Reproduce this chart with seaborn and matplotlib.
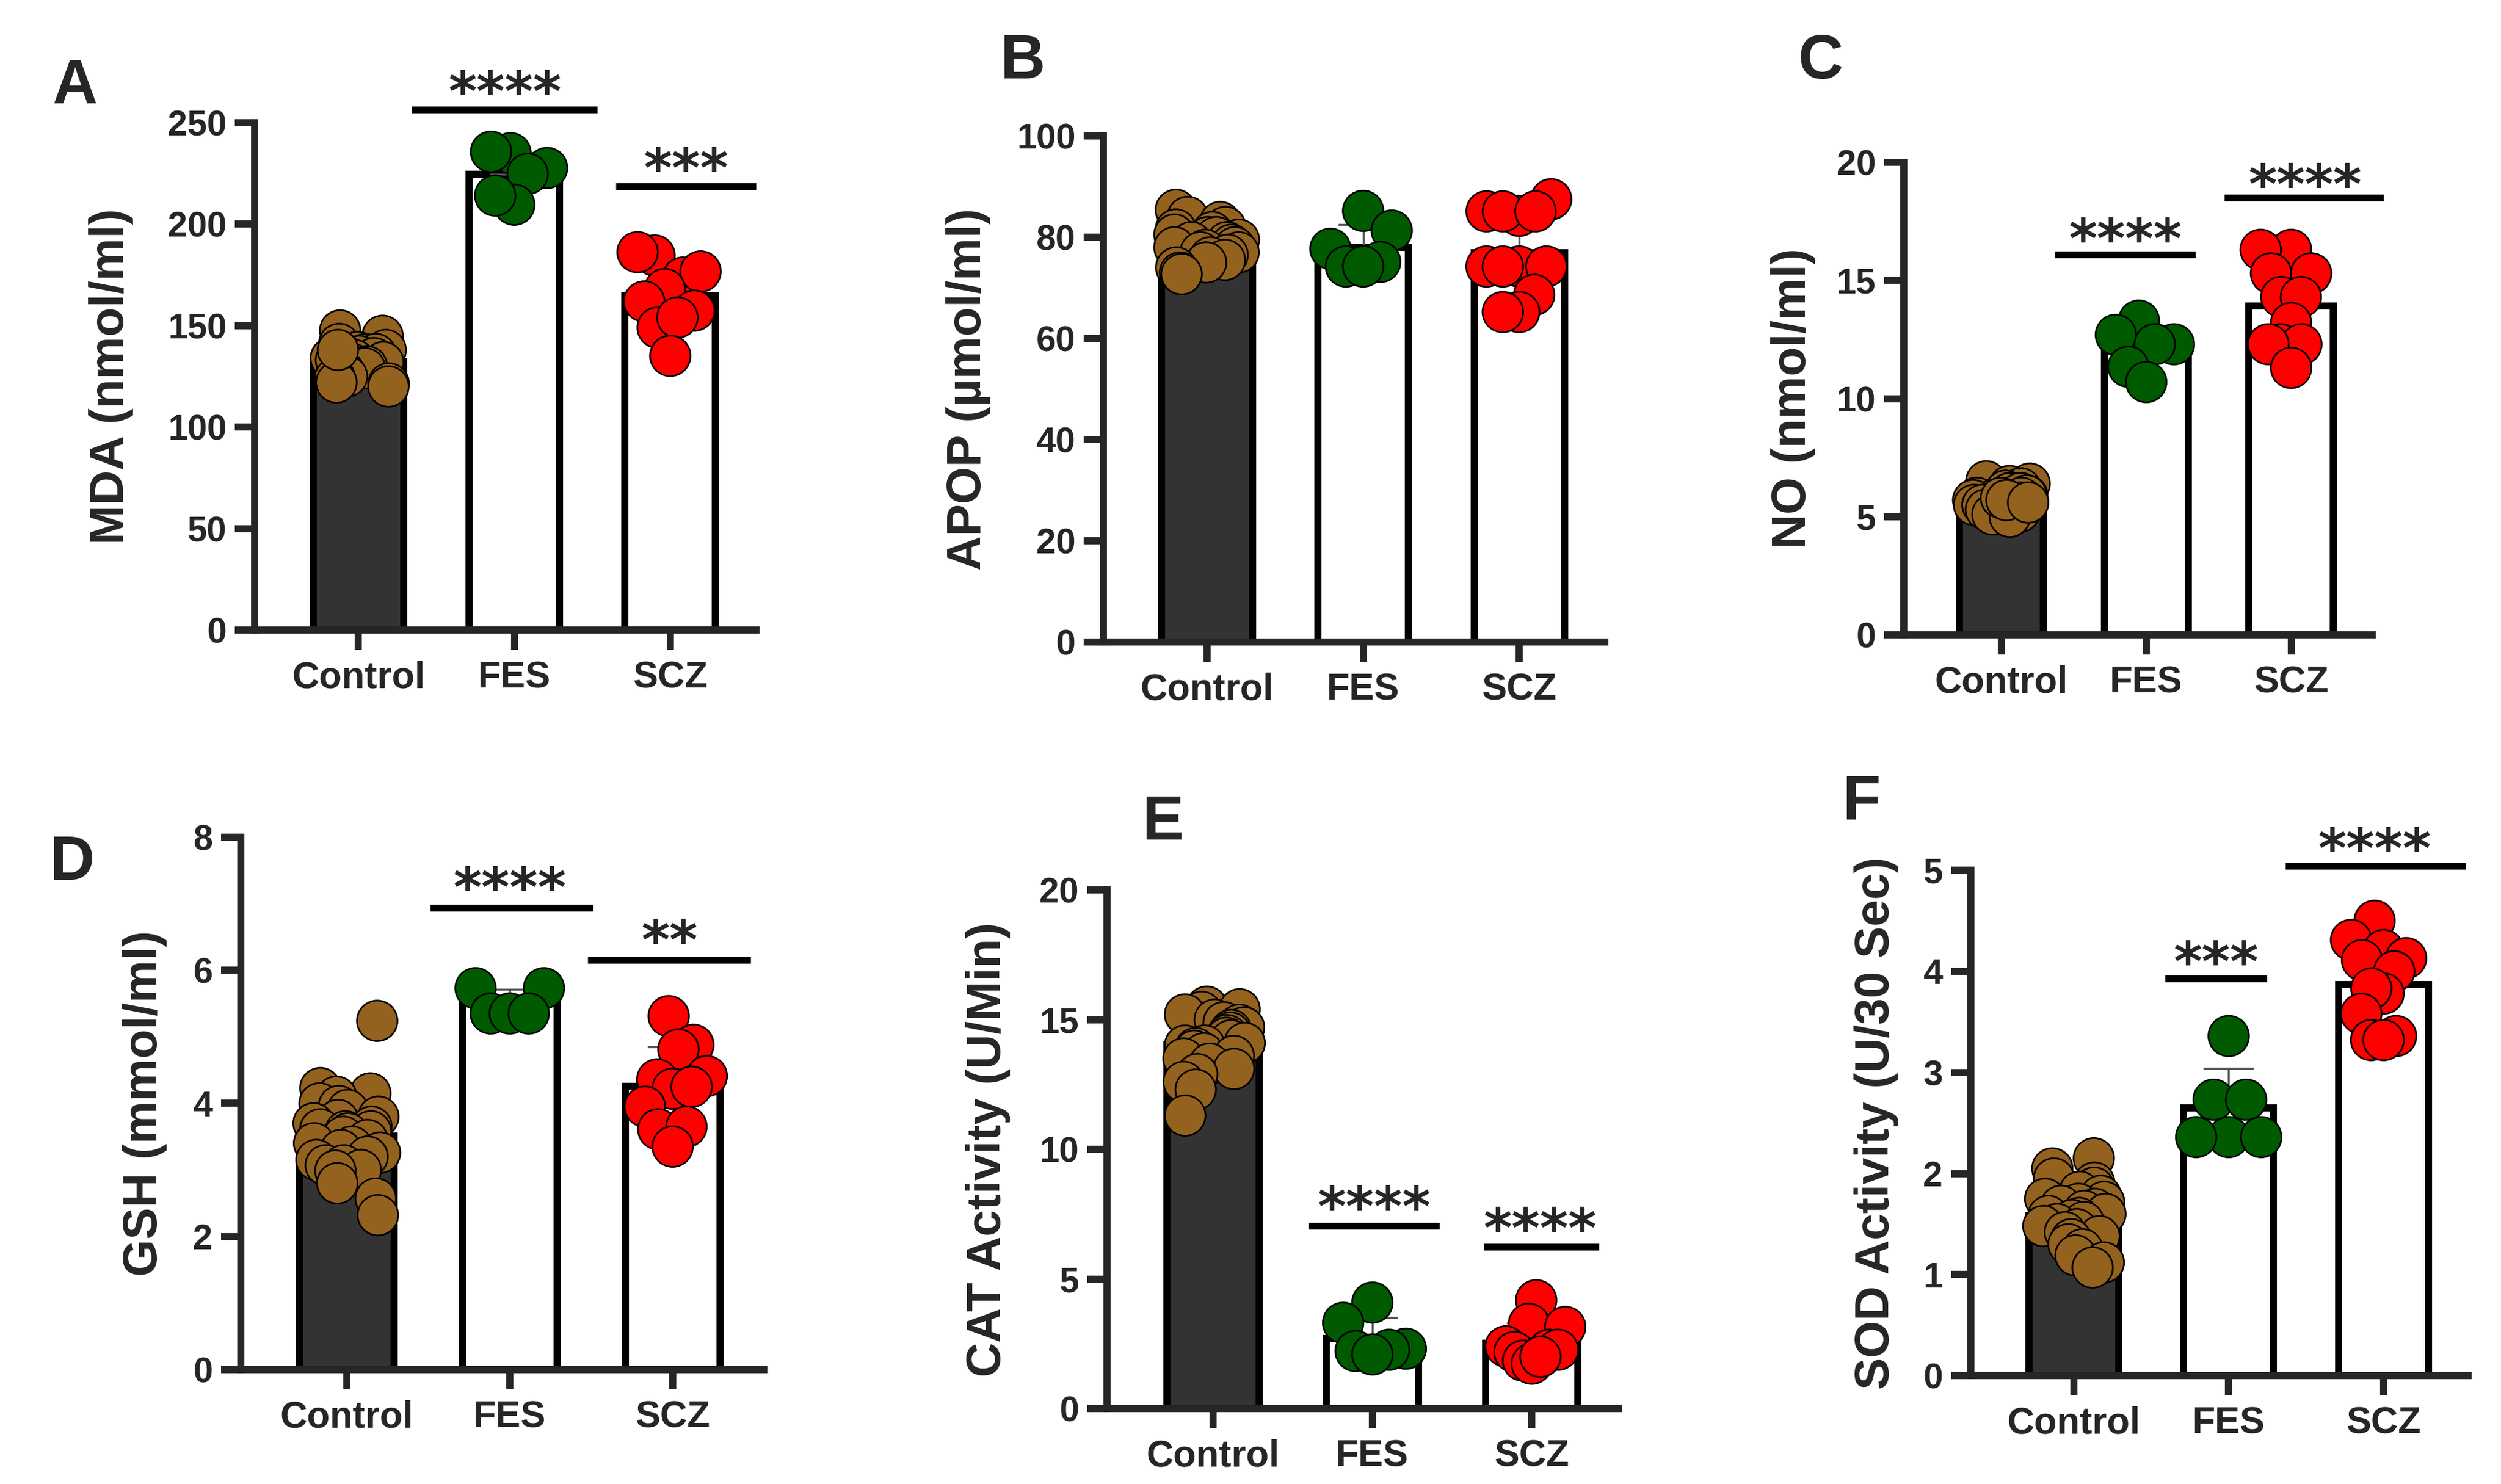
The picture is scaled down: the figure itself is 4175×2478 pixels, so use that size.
import numpy as np
import pandas as pd
import matplotlib
matplotlib.use("Agg")
import matplotlib.pyplot as plt
import matplotlib.transforms as mtransforms
import seaborn as sns
from seaborn.categorical import Beeswarm

groups = ["Control", "FES", "SCZ"]

# MDA (nmol/ml)
mda_control = [147.6, 145, 141, 138, 137, 136, 136, 135, 135, 134, 134, 134, 133, 133, 132,
               132, 131, 130, 130, 129, 129, 128, 127, 126.7, 125, 124, 122, 121.5, 120, 138]
mda_fes = [235, 235.7, 227.7, 224.8, 209.6, 214.1]
mda_scz = [184.6, 186.2, 173.7, 176.7, 168, 161.9, 157.4, 149, 154, 135.1]

# APOP (umol/ml)
apop_control = [85.4, 84, 83, 82, 81.5, 81, 80.5, 80, 80, 79.5, 79, 79, 78.5, 78, 78,
                77.5, 77, 77, 76.5, 76, 75.5, 75, 74, 73, 72.7]
apop_fes = [85.2, 81.3, 77.7, 75.1, 74.2, 74.2]
apop_scz = [87.5, 84.2, 85.1, 85.1, 85.1, 74.2, 74.2, 74.2, 74.2, 68.6, 65.2, 65.2]

# NO (nmol/ml)
no_control = [6.5, 6.4, 6.3, 6.2, 6.1, 6.0, 6.0, 5.9, 5.9, 5.8, 5.8, 5.7, 5.7, 5.6, 5.6,
              5.5, 5.5, 5.4, 5.3, 5.2, 5.1, 5.0, 5.8, 5.7, 5.6]
no_fes = [13.3, 12.7, 12.3, 12.3, 11.35, 10.7]
no_scz = [16.3, 16.3, 15.3, 15.3, 14.3, 14.3, 13.2, 12.3, 12.3, 12.3, 11.3]

# GSH (mmol/ml)
gsh_control = [5.24, 4.23, 4.15, 4.1, 4.0, 3.96, 3.9, 3.8, 3.75, 3.7, 3.65, 3.61, 3.58, 3.58, 3.55,
               3.5, 3.45, 3.4, 3.35, 3.3, 3.26, 3.2, 3.15, 3.07, 3.07, 3.0, 2.99, 2.8, 2.57, 2.32]
gsh_fes = [5.73, 5.73, 5.35, 5.35, 5.35]
gsh_scz = [5.31, 4.88, 4.81, 4.36, 4.41, 4.22, 4.25, 3.95, 3.61, 3.65, 3.35]

# CAT activity (U/Min)
cat_control = [15.5, 15.4, 15.3, 15.2, 15.0, 14.9, 14.8, 14.7, 14.6, 14.5, 14.4, 14.3, 14.2, 14.1,
               14.0, 14.0, 13.9, 13.8, 13.7, 13.6, 13.5, 13.3, 13.1, 12.9, 12.6, 12.3, 11.3]
cat_fes = [4.09, 3.31, 2.22, 2.31, 2.27, 2.09]
cat_scz = [4.18, 3.27, 3.15, 2.27, 2.27, 2.4, 2.18, 1.85, 1.73, 2.0]

# SOD activity (U/30 Sec)
sod_control = [2.15, 2.05, 1.95, 1.91, 1.86, 1.82, 1.78, 1.75, 1.72, 1.7, 1.68, 1.65, 1.63, 1.6, 1.58,
               1.56, 1.54, 1.52, 1.5, 1.48, 1.45, 1.42, 1.38, 1.35, 1.3, 1.25, 1.19, 1.12, 1.07]
sod_fes = [3.36, 2.73, 2.73, 2.36, 2.36, 2.36]
sod_scz = [4.5, 4.31, 4.21, 4.13, 4.11, 4.0, 3.78, 3.83, 3.58, 3.32, 3.36, 3.32]

bar_fill = {"Control": "#333333", "FES": "white", "SCZ": "white"}
dot_colors = {"Control": "#94621F", "FES": "#005A00", "SCZ": "#FF0000"}

# GraphPad lets the dots overlap: squeeze seaborn's swarm so it stays on the bar
_swarm = Beeswarm.__call__
MAX_SPREAD = 0.21


def tight_swarm(self, points, center):
    self.width = 4  # no gutter clipping, we squeeze afterwards
    _swarm(self, points, center)
    xy = np.array(points.get_offsets())
    dx = xy[:, 0] - center
    m = np.abs(dx).max()
    f = min(0.8, MAX_SPREAD / m) if m > 0 else 1.0
    xy[:, 0] = center + dx * f
    points.set_offsets(xy)


Beeswarm.__call__ = tight_swarm

sns.set_theme(style="ticks")
plt.rcParams["font.family"] = ["Liberation Sans", "DejaVu Sans"]
plt.rcParams["font.weight"] = "bold"
plt.rcParams["axes.labelweight"] = "bold"

LW = 3.4

fig = plt.figure(figsize=(16.7, 9.912), dpi=250)
np.random.seed(5)


def draw_panel(rect, letter, letter_xy, control, fes, scz, ylabel, ymax, ystep,
               xlim, label_x, sigs):
    ax = fig.add_axes(rect)
    df = pd.DataFrame({
        "group": ["Control"] * len(control) + ["FES"] * len(fes) + ["SCZ"] * len(scz),
        "value": control + fes + scz,
    })

    sns.barplot(data=df, x="group", y="value", order=groups, hue="group",
                palette=bar_fill, edgecolor="black", linewidth=LW, width=0.58,
                errorbar=None, legend=False, ax=ax, zorder=1)

    # mean + SD, upper half only (as in the original)
    stats = df.groupby("group")["value"].agg(["mean", "std"]).reindex(groups)
    ax.errorbar(np.arange(3), stats["mean"], yerr=[np.zeros(3), stats["std"]],
                fmt="none", ecolor="#555555", elinewidth=1.0, capsize=12,
                capthick=1.0, zorder=2)

    # crowded control group: jittered strip, patient groups: swarm
    sns.stripplot(data=df[df.group == "Control"], x="group", y="value", order=groups,
                  hue="group", palette=dot_colors, jitter=0.21, size=19.5,
                  linewidth=0.8, edgecolor="black", legend=False, ax=ax, zorder=3)
    sns.swarmplot(data=df[df.group != "Control"], x="group", y="value", order=groups,
                  hue="group", palette=dot_colors, size=19.5, warn_thresh=1,
                  linewidth=0.8, edgecolor="black", legend=False, ax=ax, zorder=3)

    ax.set_xlim(*xlim)
    ax.set_ylim(0, ymax)
    ax.set_yticks(np.arange(0, ymax + ystep / 2, ystep))
    ax.set_xlabel("")
    ax.set_ylabel(ylabel, fontsize=23, fontweight="bold")
    ax.yaxis.set_label_coords(label_x, 0.5)

    sns.despine(ax=ax)
    for side in ["left", "bottom"]:
        ax.spines[side].set_linewidth(LW)
    ax.tick_params(axis="both", width=LW, length=9.5, labelsize=17)
    ax.tick_params(axis="x", pad=5, labelsize=18)
    ax.tick_params(axis="y", pad=4)

    star_tr = mtransforms.offset_copy(ax.transData, fig=fig, y=-15, units="points")
    for x0, x1, y_line, x_star, y_star, stars in sigs:
        ax.plot([x0, x1], [y_line, y_line], color="black", lw=3.3,
                solid_capstyle="butt", clip_on=False, zorder=5)
        ax.text(x_star, y_star, stars, transform=star_tr, ha="center", va="baseline",
                fontsize=26, fontweight="bold", family="DejaVu Sans", clip_on=False)

    fig.text(letter_xy[0], letter_xy[1], letter, fontsize=30, fontweight="bold",
             ha="center", va="center")
    return ax


draw_panel([0.1018, 0.5755, 0.2005, 0.3418], "A", (0.030, 0.941),
           mda_control, mda_fes, mda_scz, "MDA (nmol/ml)", 250, 50,
           (-0.665, 2.55), -0.241,
           [(0.34, 1.53, 256.5, 0.94, 271.5, "****"),
            (1.65, 2.55, 218.7, 2.10, 233.8, "***")])

draw_panel([0.4412, 0.5674, 0.2005, 0.341], "B", (0.409, 0.958),
           apop_control, apop_fes, apop_scz, "APOP (µmol/ml)", 100, 20,
           (-0.664, 2.549), -0.225, [])

draw_panel([0.7612, 0.5722, 0.1873, 0.3184], "C", (0.728, 0.958),
           no_control, no_fes, no_scz, "NO (nmol/ml)", 20, 5,
           (-0.674, 2.56), -0.188,
           [(0.37, 1.34, 16.1, 0.855, 17.3, "****"),
            (1.54, 2.64, 18.5, 2.095, 19.6, "****")])

draw_panel([0.0963, 0.0771, 0.2091, 0.3588], "D", (0.029, 0.418),
           gsh_control, gsh_fes, gsh_scz, "GSH (mmol/ml)", 8, 2,
           (-0.651, 2.56), -0.141,
           [(0.51, 1.51, 6.94, 1.0, 7.43, "****"),
            (1.48, 2.48, 6.15, 1.98, 6.64, "**")])

draw_panel([0.4426, 0.0508, 0.2046, 0.3495], "E", (0.465, 0.445),
           cat_control, cat_fes, cat_scz, "CAT Activity (U/Min)", 20, 5,
           (-0.665, 2.545), -0.188,
           [(0.60, 1.42, 7.04, 1.01, 8.27, "****"),
            (1.70, 2.42, 6.24, 2.05, 7.45, "****")])

draw_panel([0.788, 0.0730, 0.1988, 0.3406], "F", (0.7445, 0.459),
           sod_control, sod_fes, sod_scz, "SOD Activity (U/30 Sec)", 5, 1,
           (-0.665, 2.545), -0.145,
           [(0.588, 1.246, 3.93, 0.917, 4.22, "***"),
            (1.366, 2.53, 5.04, 1.94, 5.34, "****")])

fig.savefig("out.png", dpi=250, facecolor="white")
